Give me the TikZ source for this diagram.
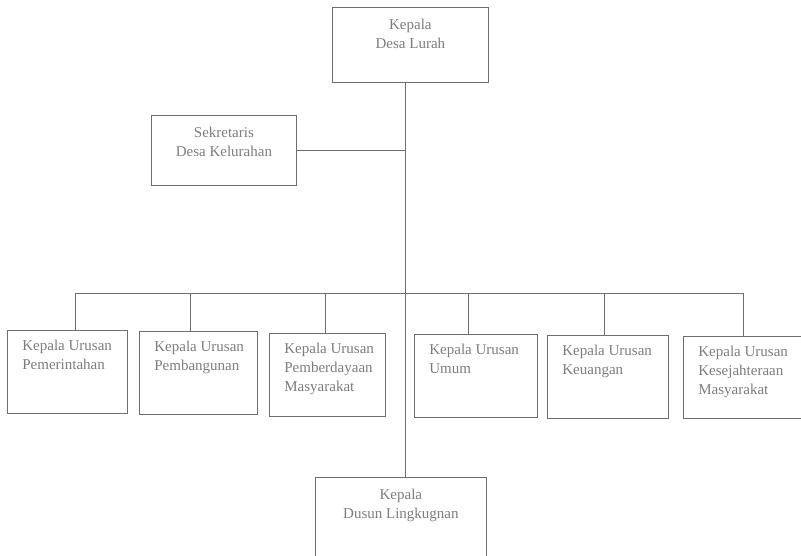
\documentclass[tikz,border=0pt]{standalone}
\usepackage{fontspec}
\setmainfont{Liberation Serif}

\definecolor{garis}{RGB}{110,110,110}
\definecolor{tulisan}{RGB}{125,125,125}

\newcommand{\tengah}[3]{\parbox[c][#2][t]{#1}{\centering\rule{0pt}{22pt}#3}}
\newcommand{\kiri}[3]{\parbox[c][#2][t]{#1}{\raggedright\leftskip=15pt\rule{0pt}{20pt}#3}}

\tikzset{
    kotak/.style={draw=garis, line width=0.8pt, anchor=north west, inner sep=0pt,
        text=tulisan, font=\fontsize{15}{19}\selectfont},
    sambung/.style={draw=garis, line width=0.8pt}
}

\begin{document}
\begin{tikzpicture}[x=1pt, y=-1pt]

    \useasboundingbox (0, 0) rectangle (801, 556);
    \clip (0, 0) rectangle (801, 556);

    \node[kotak] (kepala) at (332, 7) {\tengah{156pt}{75pt}{Kepala\\Desa Lurah}};
    \node[kotak] (sekretaris) at (151, 115) {\tengah{145pt}{70pt}{Sekretaris\\Desa Kelurahan}};

    \node[kotak] (urusan1) at (7, 330) {\kiri{120pt}{83pt}{Kepala Urusan\\Pemerintahan}};
    \node[kotak] (urusan2) at (139, 331) {\kiri{118pt}{83pt}{Kepala Urusan\\Pembangunan}};
    \node[kotak] (urusan3) at (269, 333) {\kiri{116pt}{83pt}{Kepala Urusan\\Pemberdayaan\\Masyarakat}};
    \node[kotak] (urusan4) at (414, 334) {\kiri{123pt}{83pt}{Kepala Urusan\\Umum}};
    \node[kotak] (urusan5) at (547, 335) {\kiri{121pt}{83pt}{Kepala Urusan\\Keuangan}};
    \node[kotak] (urusan6) at (683, 336) {\kiri{130pt}{82pt}{Kepala Urusan\\Kesejahteraan\\Masyarakat}};

    \node[kotak] (dusun) at (315, 477) {\tengah{171pt}{90pt}{Kepala\\Dusun Lingkugnan}};

    \coordinate (trunk) at (405, 293);
    \coordinate (b1) at (75, 293);
    \coordinate (b2) at (190, 293);
    \coordinate (b3) at (325, 293);
    \coordinate (b4) at (468, 293);
    \coordinate (b5) at (604, 293);
    \coordinate (b6) at (743, 293);

    \draw[sambung] (kepala.south -| trunk) -- (dusun.north -| trunk);
    \draw[sambung] (sekretaris.east) -- (sekretaris.east -| trunk);
    \draw[sambung] (b1) -- (b6);
    \foreach \i in {1,...,6}
        \draw[sambung] (b\i) -- (b\i |- urusan\i.north);

\end{tikzpicture}
\end{document}
